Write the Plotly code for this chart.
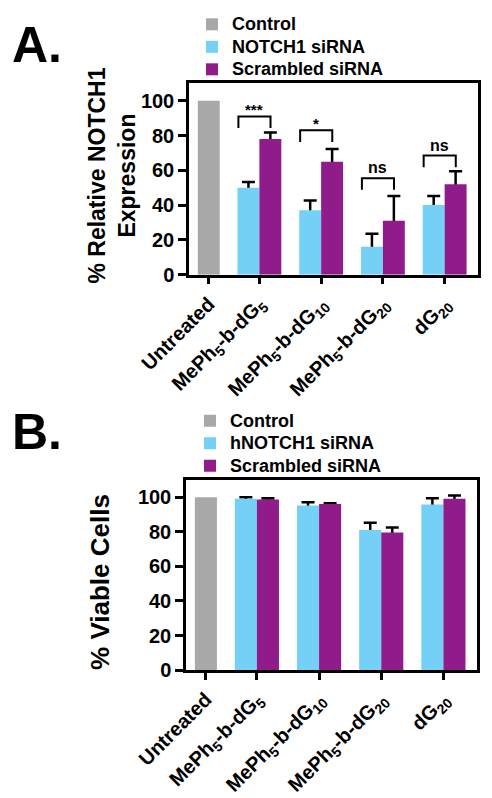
import plotly.graph_objects as go

# ---------------- data ----------------
categories = ["Untreated",
              "MePh<sub>5</sub>-b-dG<sub>5</sub>",
              "MePh<sub>5</sub>-b-dG<sub>10</sub>",
              "MePh<sub>5</sub>-b-dG<sub>20</sub>",
              "dG<sub>20</sub>"]
treated = categories[1:]

# Panel A: % Relative NOTCH1 Expression
a_control = [100]
a_notch = [50, 37, 16, 40]
a_notch_err = [3.3, 5.7, 7.5, 5.3]
a_scr = [78, 65, 31, 52]
a_scr_err = [3.8, 7.3, 14.3, 7.5]
sig_labels = ["***", "*", "ns", "ns"]
sig_top = [91, 83, 55.5, 68.5]

# Panel B: % Viable Cells
b_control = [100]
b_notch = [99, 95.2, 81, 95.8]
b_notch_err = [1.0, 1.8, 4.2, 3.6]
b_scr = [98.6, 96, 79.5, 99]
b_scr_err = [0.8, 0.5, 3.0, 2.0]

yticks = [0, 20, 40, 60, 80, 100]

# ---------------- style ----------------
GRAY = "#A8A8A8"
CYAN = "#74D0F6"
PURPLE = "#901C8C"
FONT = "Liberation Sans, Arial, sans-serif"
PAGE_OFF = 8                      # default page body margin
W, H = 492 - PAGE_OFF, 798 - PAGE_OFF
BW = 0.355          # bar width in category units
GAP0 = 0.82         # distance Untreated -> first treated group
pos = [0.0] + [GAP0 + i for i in range(len(treated))]
tpos = pos[1:]
XR = [-0.32, 4.36]


def fx(px):
    return (px - PAGE_OFF) / W


def fy(py):
    return 1 - (py - PAGE_OFF) / H


fig = go.Figure()


def err_carrier(xa, ya, vals, errs, offset):
    # transparent bar carrying error bars; the lower half is hidden by the real bar drawn later
    fig.add_trace(go.Bar(x=tpos, y=vals, width=BW, offset=offset,
                         marker=dict(color="rgba(0,0,0,0)", line_width=0),
                         error_y=dict(type="data", array=errs, color="black",
                                      thickness=2.5, width=6.5),
                         showlegend=False, hoverinfo="skip", xaxis=xa, yaxis=ya))


def lname(s):
    return f'<span style="font-size:18px">{s}</span>'


def add_panel(xa, ya, leg, ctrl, n, nerr, s, serr, name2):
    err_carrier(xa, ya, n, nerr, -BW)
    err_carrier(xa, ya, s, serr, 0)
    fig.add_trace(go.Bar(x=[pos[0]], y=ctrl, width=BW, marker_color=GRAY, marker_line_width=0,
                         name=lname("Control"), xaxis=xa, yaxis=ya, legend=leg))
    fig.add_trace(go.Bar(x=tpos, y=n, width=BW, offset=-BW, marker_color=CYAN, marker_line_width=0,
                         name=lname(name2), xaxis=xa, yaxis=ya, legend=leg))
    fig.add_trace(go.Bar(x=tpos, y=s, width=BW, offset=0, marker_color=PURPLE, marker_line_width=0,
                         name=lname("Scrambled siRNA"), xaxis=xa, yaxis=ya, legend=leg))


add_panel("x", "y", "legend", a_control, a_notch, a_notch_err, a_scr, a_scr_err, "NOTCH1 siRNA")
add_panel("x2", "y2", "legend2", b_control, b_notch, b_notch_err, b_scr, b_scr_err, "hNOTCH1 siRNA")

axis_common = dict(showline=True, linecolor="black", linewidth=2.5, mirror=True,
                   showgrid=False, zeroline=False, ticks="outside", tickcolor="black",
                   tickwidth=2.5, ticklen=7, automargin=False,
                   tickfont=dict(family=FONT, size=20, color="black", weight="bold"))
xfont = dict(family=FONT, size=20, color="black", weight="bold")
legfont = dict(family=FONT, size=15, color="black", weight="bold")

fig.update_layout(
    width=W, height=H, margin=dict(l=0, r=0, t=0, b=0),
    plot_bgcolor="white", paper_bgcolor="white", barmode="overlay",
    xaxis=dict(axis_common, domain=[fx(189), fx(478)], anchor="y", range=XR,
               tickvals=pos, ticktext=categories, tickangle=-45, tickfont=xfont),
    yaxis=dict(axis_common, domain=[fy(270), fy(77)], anchor="x", range=[0, 110],
               tickvals=yticks, ticklen=8),
    xaxis2=dict(axis_common, domain=[fx(186), fx(477)], anchor="y2", range=XR,
                tickvals=pos, ticktext=categories, tickangle=-45, tickfont=xfont),
    yaxis2=dict(axis_common, domain=[fy(669), fy(477)], anchor="x2", range=[0, 110],
                tickvals=yticks, ticklen=8),
    legend=dict(x=fx(192), xanchor="left", y=fy(1), yanchor="top", font=legfont,
                bgcolor="rgba(0,0,0,0)", tracegroupgap=0, itemclick=False),
    legend2=dict(x=fx(190), xanchor="left", y=fy(401), yanchor="top", font=legfont,
                 bgcolor="rgba(0,0,0,0)", tracegroupgap=0, itemclick=False),
)

# significance brackets (panel A)
LEG_DROP = 6.7
for p, top, lab in zip(tpos, sig_top, sig_labels):
    x0, x1 = p - 0.34, p + 0.18
    fig.add_shape(type="path", xref="x", yref="y",
                  path=f"M {x0},{top - LEG_DROP} L {x0},{top} L {x1},{top} L {x1},{top - LEG_DROP}",
                  line=dict(color="black", width=2))
    fig.add_annotation(x=(x0 + x1) / 2, y=top, xref="x", yref="y", text=f"<b>{lab}</b>",
                       showarrow=False, yanchor="bottom", yshift=(-4 if "*" in lab else 0),
                       font=dict(family=FONT, size=(15 if "*" in lab else 16), color="black"))

# axis titles
fig.add_annotation(x=fx(112), y=fy(170), xref="paper", yref="paper",
                   text="<b>% Relative NOTCH1<br>Expression</b>", textangle=-90,
                   showarrow=False, xanchor="center", yanchor="middle",
                   font=dict(family=FONT, size=23, color="black"))
fig.add_annotation(x=fx(100), y=fy(580), xref="paper", yref="paper",
                   text="<b>% Viable Cells</b>", textangle=-90,
                   showarrow=False, xanchor="center", yanchor="middle",
                   font=dict(family=FONT, size=26, color="black"))

# panel letters
for lab, ytop in (("A.", 8), ("B.", 398)):
    fig.add_annotation(x=fx(10), y=fy(ytop), xref="paper", yref="paper",
                       text=f"<b>{lab}</b>", showarrow=False, xanchor="left", yanchor="top",
                       font=dict(family=FONT, size=50, color="black"))

fig.write_html("out.html")
